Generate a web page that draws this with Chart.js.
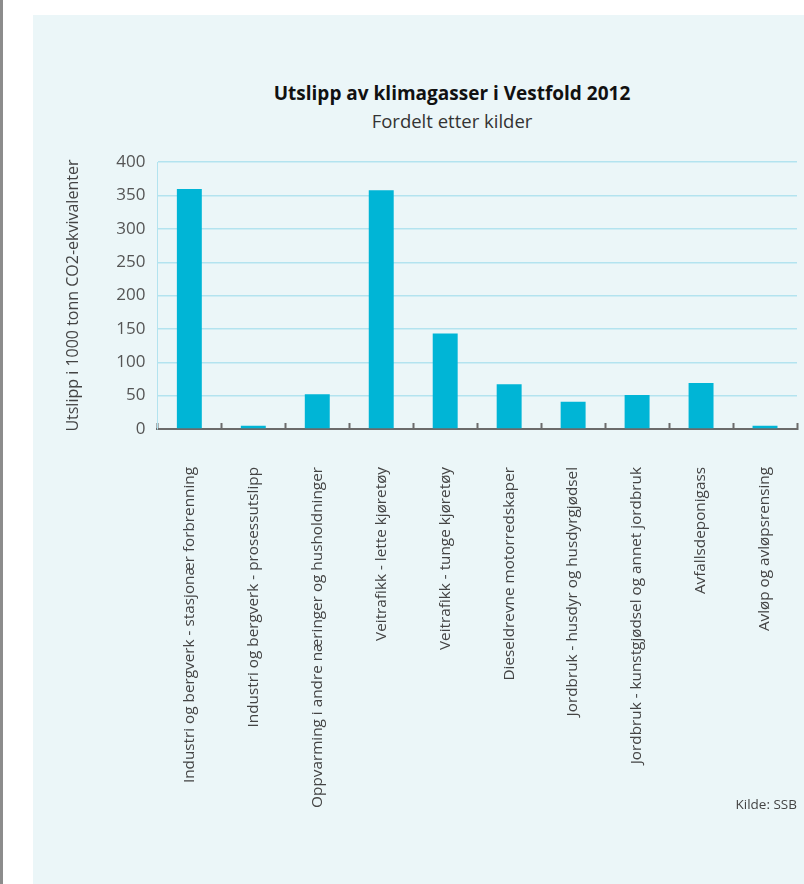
<!DOCTYPE html>
<html lang="no">
<head>
<meta charset="UTF-8" />
<title>Utslipp av klimagasser i Vestfold 2012</title>
<script src="https://cdn.jsdelivr.net/npm/chart.js"></script>
<style>
    html, body { margin: 0; padding: 0; }
    body { width: 804px; height: 884px; background: #fff; position: relative; overflow: hidden; font-family: "Open Sans", sans-serif; }
    .kant { position: absolute; left: 0; top: 0; width: 3px; height: 884px; background: #8c8c8c; }
    .panel { position: absolute; left: 33px; top: 15px; right: 0; bottom: 0; background: #ebf6f8; }
    .tittel { position: absolute; left: 202px; width: 500px; text-align: center; top: 80px; font-size: 19px; font-weight: 700; color: #111; }
    .undertittel { position: absolute; left: 202px; width: 500px; text-align: center; top: 108px; font-size: 18.5px; color: #333; }
    .kilde { position: absolute; right: 7px; top: 795px; font-size: 13.5px; color: #444; }
    .graf { position: absolute; left: 33px; top: 140px; width: 771px; height: 744px; }
</style>
</head>
<body>
    <div class="kant"></div>
    <div class="panel"></div>
    <div class="tittel">Utslipp av klimagasser i Vestfold 2012</div>
    <div class="undertittel">Fordelt etter kilder</div>
    <div class="graf"><canvas id="grafico" width="771" height="744"></canvas></div>
    <div class="kilde">Kilde: SSB</div>

<script>
    const kilder = [
        "Industri og bergverk - stasjonær forbrenning",
        "Industri og bergverk - prosessutslipp",
        "Oppvarming i andre næringer og husholdninger",
        "Veitrafikk - lette kjøretøy",
        "Veitrafikk - tunge kjøretøy",
        "Dieseldrevne motorredskaper",
        "Jordbruk - husdyr og husdyrgjødsel",
        "Jordbruk - kunstgjødsel og annet jordbruk",
        "Avfallsdeponigass",
        "Avløp og avløpsrensing"
    ];
    const utslipp = [360, 5, 52, 358, 143, 67, 41, 51, 69, 5];
    const yMin = 0;
    const yMax = 400;
    const ySteg = 50;

    const ctx = document.getElementById("grafico").getContext("2d");

    new Chart(ctx, {
        type: 'bar',
        data: {
            labels: kilder,
            datasets: [{
                label: 'Utslipp',
                data: utslipp,
                backgroundColor: '#00b5d6',
                borderWidth: 0,
                categoryPercentage: 1,
                barPercentage: 0.39
            }]
        },
        options: {
            responsive: false,
            animation: false,
            layout: { padding: { left: 31, right: 7, top: 22, bottom: 0 } },
            plugins: {
                legend: { display: false },
                tooltip: { enabled: false }
            },
            scales: {
                x: {
                    // the long rotated labels would otherwise take half the canvas
                    afterFit: (scale) => {
                        scale.height = 455;
                        scale.paddingLeft = 0;
                        scale.paddingRight = 0;
                    },
                    grid: {
                        offset: true,
                        drawOnChartArea: false,
                        tickLength: -6,
                        tickWidth: 2,
                        tickColor: '#6b6b6b'
                    },
                    border: { color: '#6b6b6b', width: 2 },
                    ticks: {
                        maxRotation: 90,
                        minRotation: 90,
                        autoSkip: false,
                        padding: 44,
                        color: '#444',
                        font: { family: 'Open Sans', size: 15.3 }
                    }
                },
                y: {
                    min: yMin,
                    max: yMax,
                    grid: { color: '#b3e3ef', lineWidth: 1.5, drawTicks: false },
                    border: { color: '#b3e3ef', width: 1 },
                    ticks: {
                        stepSize: ySteg,
                        padding: 12,
                        color: '#555',
                        font: { family: 'Open Sans', size: 17 }
                    },
                    title: {
                        display: true,
                        text: 'Utslipp i 1000 tonn CO2-ekvivalenter',
                        color: '#444',
                        padding: { top: 0, bottom: 21 },
                        font: { family: 'Open Sans', size: 16 }
                    }
                }
            }
        }
    });
</script>
</body>
</html>
